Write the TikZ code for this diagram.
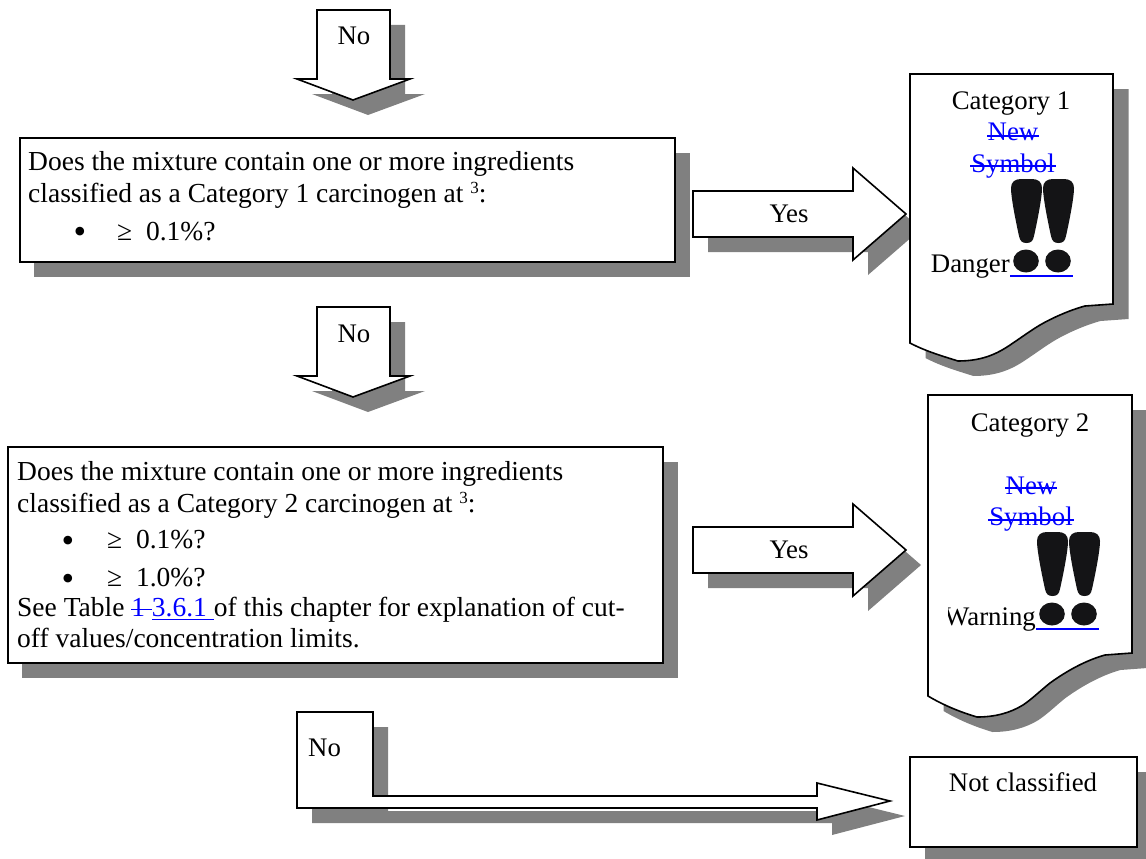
\documentclass[tikz,border=0pt]{standalone}
\usepackage{fontspec}
\setmainfont{Liberation Serif}
\definecolor{shade}{RGB}{128,128,128}
\definecolor{link}{RGB}{0,0,255}
\definecolor{ink}{RGB}{20,20,22}
\newcommand{\tfont}{\fontsize{26.8}{32}\selectfont}
\newcommand{\bfontsize}{\fontsize{27.5}{32}\selectfont}
\newcommand{\supthree}{\raisebox{9pt}{\fontsize{17}{17}\selectfont 3}}
\newcommand{\bulletchar}{\fontsize{36}{36}\selectfont •}
\tikzset{
  x=1pt,y=-1pt,
  outl/.style={draw=black,line width=1.6pt,fill=white,line join=miter},
  shad/.style={fill=shade,draw=none},
  lbl/.style={font=\tfont,inner sep=0pt,text=black,anchor=base},
  lnk/.style={font=\tfont,inner sep=0pt,text=link,anchor=base},
  lnkrule/.style={draw=link,line width=1.4pt},
  body/.style={font=\bfontsize,inner sep=0pt,anchor=base west,text=black},
  bullet1/.style={inner sep=0pt,anchor=base,text=black},
  mark1/.style={fill=ink,draw=none}
}
\newcommand{\downarrowshape}[1]{(317,#1+10) -- (390,#1+10) -- (390,#1+79) -- (410,#1+79) -- (353,#1+100) -- (297,#1+79) -- (317,#1+79) -- cycle}
\newcommand{\rightarrowshape}[1]{(693,#1+191) -- (853,#1+191) -- (853,#1+168) -- (906,#1+214) -- (853,#1+260) -- (853,#1+237) -- (693,#1+237) -- cycle}
\newcommand{\onebang}{(0,9) .. controls (0,3) and (4,0) .. (10,0) -- (21,0) .. controls (27,0) and (31,3) .. (31,9) .. controls (31,20) and (25,48) .. (23,57) .. controls (22,62) and (20,64) .. (15.5,64) .. controls (11,64) and (9,62) .. (8,57) .. controls (6,48) and (0,20) .. (0,9) -- cycle}
\newcommand{\bangs}[2]{%
  \begin{scope}[shift={(#1,#2)}]
    \fill[mark1] \onebang;
    \begin{scope}[shift={(32,0)}]\fill[mark1] \onebang;\end{scope}
    \fill[mark1] (15,82) ellipse (12.8 and 11.5);
    \fill[mark1] (47,82) ellipse (12.8 and 11.5);
  \end{scope}}
\newcommand{\docone}{(910,74) -- (1113,74) -- (1113,304) -- (1085,306) .. controls (1070,310) and (1052,318) .. (1040,325) .. controls (1030,331) and (1022,337) .. (1013,343) .. controls (1000,352) and (985,361) .. (958,361) .. controls (942,356) and (925,351) .. (910,343) -- cycle}
\newcommand{\doctwo}{(928,395) -- (1132,395) -- (1132,653) -- (1105,655) .. controls (1087,660) and (1068,670) .. (1050,683) .. controls (1040,691) and (1032,699) .. (1023,705) .. controls (1010,713) and (995,717) .. (977,717) .. controls (960,712) and (943,705) .. (928,696) -- cycle}
\newcommand{\lshape}{(297,712) -- (373,712) -- (373,796) -- (817,796) -- (817,783) -- (890,801) -- (817,820) -- (817,808) -- (297,808) -- cycle}
\begin{document}
\begin{tikzpicture}
\useasboundingbox (0,0) rectangle (1146,859);
% arrow down 1
\fill[shad,shift={(15,15)}] \downarrowshape{0};
\draw[outl] \downarrowshape{0};
\node[lbl] (no1) at (354,45) {No};
% box 1
\fill[shad] (34,153) rectangle (690,277);
\node[outl,inner sep=0pt,minimum width=655pt,minimum height=124pt] (box1) at (347.5,200) {};
\node[body] (t1a) at (28,170) {Does the mixture contain one or more ingredients};
\node[body] (t1b) at (28,202) {classified as a Category 1 carcinogen at \supthree:};
\node[bullet1] (t1c) at (80,243.7) {\bulletchar};
\node[body] (t1d) at (117,240) {≥\ \ 0.1\%?};
% yes 1
\fill[shad,shift={(15,15)}] \rightarrowshape{0};
\draw[outl] \rightarrowshape{0};
\node[lbl] (yes1) at (789,222) {Yes};
% arrow down 2
\fill[shad,shift={(15,15)}] \downarrowshape{297};
\draw[outl] \downarrowshape{297};
\node[lbl] (no2) at (354,342) {No};
% box 2
\fill[shad] (22,462) rectangle (678,678);
\node[outl,inner sep=0pt,minimum width=655pt,minimum height=216pt] (box2) at (335.5,555) {};
\node[body] (t2a) at (17,480) {Does the mixture contain one or more ingredients};
\node[body] (t2b) at (17,512) {classified as a Category 2 carcinogen at \supthree:};
\node[bullet1] (t2c) at (68,552) {\bulletchar};
\node[body] (t2d) at (107,548) {≥\ \ 0.1\%?};
\node[bullet1] (t2e) at (68,590) {\bulletchar};
\node[body] (t2f) at (107,586) {≥\ \ 1.0\%?};
\node[body] (t2g) at (17,616) {See Table \textcolor{link}{\rlap{\rule[6pt]{20.5pt}{1.4pt}}1 \rlap{\rule[-4pt]{61.6pt}{1.4pt}}3.6.1 }of this chapter for explanation of cut-};
\node[body] (t2h) at (17,647) {off values/concentration limits.};
% yes 2
\fill[shad,shift={(15,15)}] \rightarrowshape{336};
\draw[outl] \rightarrowshape{336};
\node[lbl] (yes2) at (789,558) {Yes};
% doc 1
\fill[shad,shift={(15.5,15)}] \docone;
\draw[outl] \docone;
\node[lbl] (c1) at (1011,110) {Category 1};
\node[lnk] (n1) at (1013,140) {New};
\node[lnk] (s1) at (1013,172) {Symbol};
\draw[lnkrule] (987,136) -- (1039,136);
\draw[lnkrule] (970,166) -- (1056,166);
\bangs{1011}{179}
\node[lbl,anchor=base east] (d1) at (1010,272) {Danger};
\draw[lnkrule] (1010,276) -- (1073,276);
% doc 2
\fill[shad,shift={(15.5,15)}] \doctwo;
\draw[outl] \doctwo;
\node[lbl] (c2) at (1030,431) {Category 2};
\node[lnk] (n2) at (1031,494) {New};
\node[lnk] (s2) at (1031,525) {Symbol};
\draw[lnkrule] (1005,488) -- (1057,488);
\draw[lnkrule] (988,520) -- (1074,520);
\bangs{1037}{532}
\begin{scope}
  \clip (948,590) rectangle (1040,640);
  \node[lbl,anchor=base east] (d2) at (1036,625) {Warning};
\end{scope}
\draw[lnkrule,line width=2pt] (1036,629) -- (1099,629);
% bottom arrow
\fill[shad,shift={(15,15)}] \lshape;
\draw[outl] \lshape;
\node[lbl,anchor=base west] (no3) at (308,756) {No};
% not classified
\fill[shad] (925,772) rectangle (1146,859);
\node[outl,inner sep=0pt,minimum width=227pt,minimum height=90pt] (nc) at (1023.5,802) {};
\node[lbl] (nct) at (1023,791) {Not classified};
\end{tikzpicture}
\end{document}
